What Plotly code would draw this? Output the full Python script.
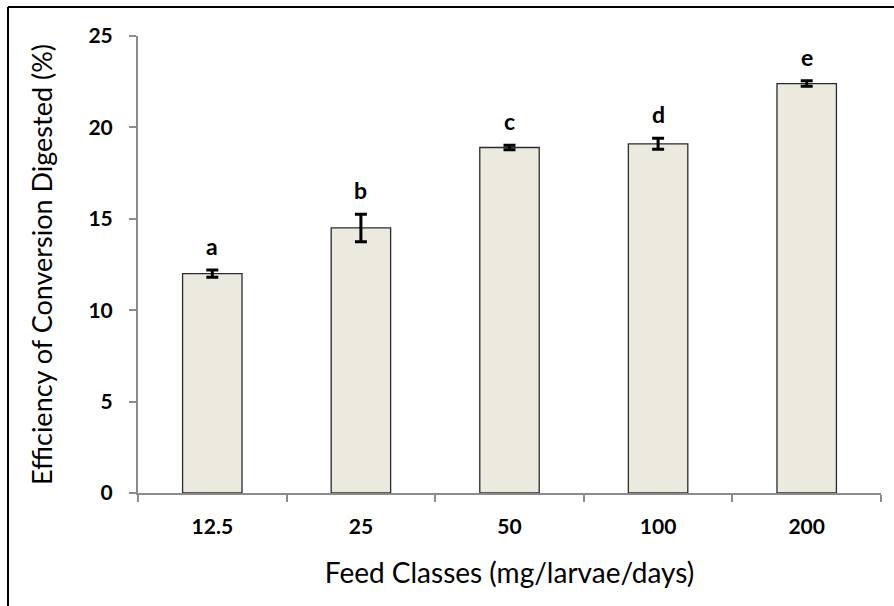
import plotly.graph_objects as go

# Feed classes and measured efficiency of conversion of digested food
feed_classes = ["12.5", "25", "50", "100", "200"]
ecd_mean = [12.0, 14.5, 18.9, 19.1, 22.4]
ecd_err = [0.2, 0.75, 0.12, 0.3, 0.15]
group_letters = ["a", "b", "c", "d", "e"]

W, H = 894, 606
L, R, T, B = 138, 13, 36, 113
FONT = "Lato, sans-serif"

fig = go.Figure()
fig.add_trace(go.Bar(
    x=feed_classes,
    y=ecd_mean,
    marker=dict(color="#ECEADF", line=dict(color="#2b2b2b", width=1.3)),
    error_y=dict(type="data", array=ecd_err, visible=True,
                 color="black", thickness=3, width=6),
    showlegend=False,
))

# significance letters above each error bar (category index positions)
for i, (m, e, lab) in enumerate(zip(ecd_mean, ecd_err, group_letters)):
    fig.add_annotation(x=i, y=m + e, text=lab, showarrow=False,
                       yanchor="bottom", yshift=8,
                       font=dict(family=FONT, size=23, color="black", weight="bold"))

pw = W - L - R
ph = H - T - B
# frame lines along the left and top edges of the image
bx = (8 - L) / pw
by = (H - B - 7) / ph
fig.add_shape(type="line", xref="paper", yref="paper",
              x0=bx, x1=bx, y0=by, y1=-(B + 5) / ph,
              line=dict(color="black", width=2))
fig.add_shape(type="line", xref="paper", yref="paper",
              x0=bx, x1=(W - L + 5) / pw, y0=by, y1=by,
              line=dict(color="black", width=2))

axis_font = dict(family=FONT, size=21, color="black", weight="bold")
fig.update_layout(
    width=W, height=H,
    margin=dict(l=L, r=R, t=T, b=B),
    paper_bgcolor="white", plot_bgcolor="white",
    bargap=0.6,
    xaxis=dict(
        type="category", range=[-0.5, len(feed_classes) - 0.5],
        showline=True, linecolor="#8c8c8c", linewidth=2,
        ticks="outside", tickson="boundaries", ticklen=7,
        tickcolor="#8c8c8c", tickwidth=2,
        tickfont=axis_font, ticklabelstandoff=14, tickangle=0,
        showgrid=False, zeroline=False,
        title=dict(text="Feed Classes (mg/larvae/days)",
                   font=dict(family=FONT, size=28, color="black"),
                   standoff=26),
    ),
    yaxis=dict(
        range=[0, 25], tickvals=[0, 5, 10, 15, 20, 25],
        showline=True, linecolor="#8c8c8c", linewidth=2,
        ticks="outside", ticklen=7, tickcolor="#8c8c8c", tickwidth=2,
        tickfont=axis_font, ticklabelstandoff=12,
        showgrid=False, zeroline=False,
        title=dict(text="Efficiency of Conversion Digested (%)",
                   font=dict(family=FONT, size=27, color="black"),
                   standoff=28),
    ),
)

fig.write_html("out.html")
